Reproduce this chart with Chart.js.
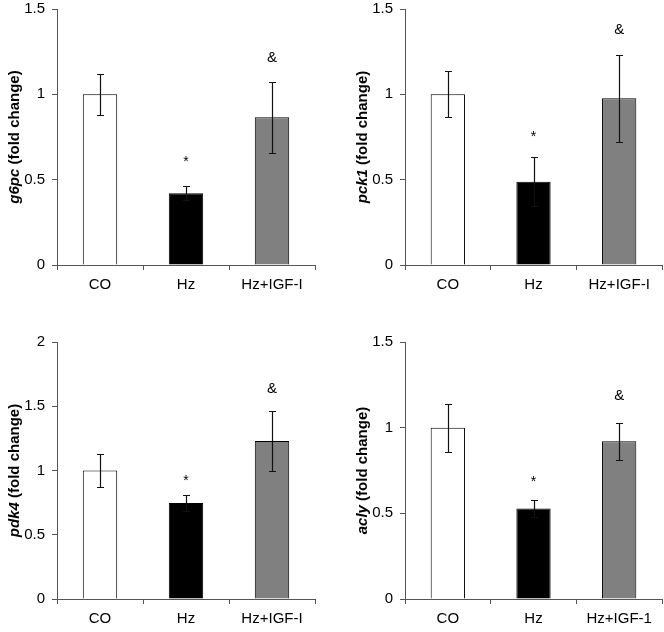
<!DOCTYPE html>
<html>
<head>
<meta charset="utf-8">
<script src="https://cdn.jsdelivr.net/npm/chart.js@4"></script>
<style>
  body { margin: 0; background: #fff; }
  .panel { position: absolute; }
</style>
</head>
<body>
<div class="panel" style="left:0;top:0"><canvas id="c1" width="332" height="316"></canvas></div>
<div class="panel" style="left:332px;top:0"><canvas id="c2" width="332" height="316"></canvas></div>
<div class="panel" style="left:0;top:316px"><canvas id="c3" width="332" height="316"></canvas></div>
<div class="panel" style="left:332px;top:316px"><canvas id="c4" width="332" height="316"></canvas></div>
<script>
// groups on the x axis
const groups = ["CO", "Hz", "Hz+IGF-I"];
const groupsAcly = ["CO", "Hz", "Hz+IGF-1"];
const barColors = ["#ffffff", "#000000", "#808080"];

// fold change means and error (+/-)
const g6pcMean = [1.0, 0.42, 0.865];
const g6pcErr = [0.12, 0.04, 0.21];
const pck1Mean = [1.0, 0.488, 0.977];
const pck1Err = [0.135, 0.145, 0.255];
const pdk4Mean = [1.0, 0.748, 1.23];
const pdk4Err = [0.127, 0.06, 0.23];
const aclyMean = [1.0, 0.528, 0.92];
const aclyErr = [0.14, 0.05, 0.11];

// significance marks and the value they sit at
const marks = ["", "*", "&"];
const g6pcMarkAt = [null, 0.62, 1.22];
const pck1MarkAt = [null, 0.77, 1.38];
const pdk4MarkAt = [null, 0.94, 1.64];
const aclyMarkAt = [null, 0.70, 1.19];

Chart.defaults.font.family = "'Liberation Sans', Arial, sans-serif";
Chart.defaults.color = "#000";

const extras = {
  id: "extras",
  afterDatasetsDraw(chart) {
    const o = chart.options.plugins.extras;
    const ctx = chart.ctx;
    const meta = chart.getDatasetMeta(0);
    const ys = chart.scales.y;
    ctx.save();
    // error bars
    ctx.strokeStyle = "#111";
    ctx.lineWidth = 1.2;
    meta.data.forEach((bar, i) => {
      const x = Math.round(bar.x) + 0.5;
      const top = Math.round(ys.getPixelForValue(o.mean[i] + o.err[i])) + 0.5;
      const bot = Math.round(ys.getPixelForValue(o.mean[i] - o.err[i])) + 0.5;
      ctx.beginPath();
      ctx.moveTo(x, top); ctx.lineTo(x, bot);
      ctx.moveTo(x - 3.5, top); ctx.lineTo(x + 3.5, top);
      ctx.moveTo(x - 3.5, bot); ctx.lineTo(x + 3.5, bot);
      ctx.stroke();
    });
    // significance marks
    ctx.fillStyle = "#000";
    ctx.textAlign = "center";
    ctx.textBaseline = "alphabetic";
    meta.data.forEach((bar, i) => {
      if (!marks[i]) return;
      ctx.font = marks[i] === "*" ? "14px 'Liberation Sans', Arial" : "15px 'Liberation Sans', Arial";
      const m = ctx.measureText(marks[i]);
      const y = ys.getPixelForValue(o.markAt[i]);
      ctx.fillText(marks[i], bar.x, y + (m.actualBoundingBoxAscent - m.actualBoundingBoxDescent) / 2);
    });
    // y axis title: italic gene name + "(fold change)"
    const a = chart.chartArea;
    ctx.translate(a.left - 42, (a.top + a.bottom) / 2);
    ctx.rotate(-Math.PI / 2);
    ctx.textBaseline = "middle";
    ctx.textAlign = "left";
    const f1 = "italic bold 15px 'Liberation Sans', Arial";
    const f2 = "bold 15px 'Liberation Sans', Arial";
    const rest = " (fold change)";
    ctx.font = f1;
    const w1 = ctx.measureText(o.gene).width;
    ctx.font = f2;
    const w2 = ctx.measureText(rest).width;
    let x0 = -(w1 + w2) / 2;
    ctx.font = f1;
    ctx.fillText(o.gene, x0, 0);
    ctx.font = f2;
    ctx.fillText(rest, x0 + w1, 0);
    ctx.restore();
  }
};

function makePanel(id, gene, labels, mean, err, markAt, yMax, box) {
  new Chart(document.getElementById(id), {
    type: "bar",
    data: {
      labels: labels,
      datasets: [{
        data: mean,
        backgroundColor: barColors,
        borderColor: "#000",
        borderWidth: 1,
        categoryPercentage: 1,
        barPercentage: 0.4
      }]
    },
    options: {
      responsive: false,
      animation: false,
      layout: { padding: { top: box.top, right: box.right, left: 0, bottom: 0 } },
      plugins: {
        legend: { display: false },
        tooltip: { enabled: false },
        extras: { gene: gene, mean: mean, err: err, markAt: markAt }
      },
      scales: {
        x: {
          offset: true,
          grid: { offset: true, drawOnChartArea: false, tickLength: 5, color: "#555" },
          border: { color: "#555" },
          ticks: { font: { size: 15 }, padding: 6, color: "#000" },
          afterFit(s) { s.height = box.xh; s.paddingLeft = 0; s.paddingRight = 0; }
        },
        y: {
          min: 0,
          max: yMax,
          grid: { drawOnChartArea: false, tickLength: 5, color: "#555" },
          border: { color: "#555" },
          ticks: { stepSize: 0.5, font: { size: 15 }, padding: 7, color: "#000",
                   callback: v => String(v) },
          // keep the plot top where the reference has it
          afterFit(s) { s.width = box.yw; s.paddingTop = 0; s.paddingBottom = 0; }
        }
      }
    },
    plugins: [extras]
  });
}

makePanel("c1", "g6pc", groups, g6pcMean, g6pcErr, g6pcMarkAt, 1.5, { top: 9, right: 17, xh: 51, yw: 57 });
makePanel("c2", "pck1", groups, pck1Mean, pck1Err, pck1MarkAt, 1.5, { top: 9, right: 2, xh: 51, yw: 73 });
makePanel("c3", "pdk4", groups, pdk4Mean, pdk4Err, pdk4MarkAt, 2, { top: 26, right: 17, xh: 33, yw: 57 });
makePanel("c4", "acly", groupsAcly, aclyMean, aclyErr, aclyMarkAt, 1.5, { top: 26, right: 2, xh: 33, yw: 73 });
</script>
</body>
</html>
